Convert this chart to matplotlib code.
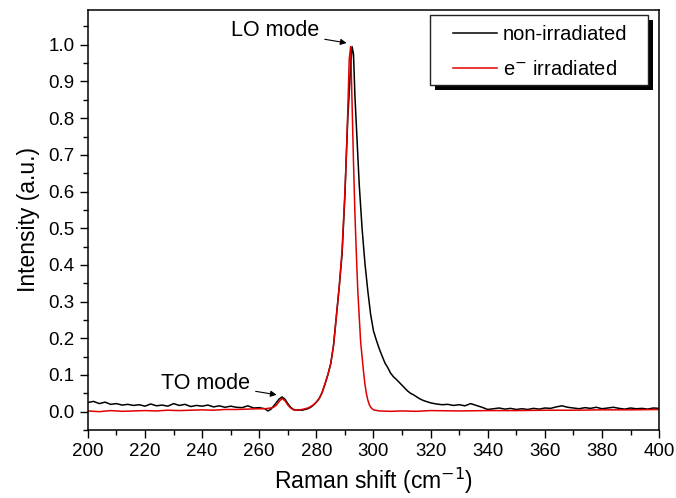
import matplotlib
matplotlib.use("Agg")
import matplotlib.pyplot as plt
from matplotlib.patches import Rectangle
from matplotlib.ticker import MultipleLocator
from matplotlib.legend_handler import HandlerLine2D

plt.rcParams['font.family'] = ['Liberation Sans', 'DejaVu Sans']

# non-irradiated spectrum (black)
shift_black = [200, 202, 204, 206, 208, 210, 212, 214, 216, 218, 220, 222, 224, 226, 228,
               230, 232, 234, 236, 238, 240, 242, 244, 246, 248, 250, 252, 254, 256, 258,
               260, 262, 263, 264, 265, 266, 267, 268, 269, 270, 271, 272, 273, 274, 275,
               276, 277, 278, 279, 280, 281, 282, 283, 284, 285, 286, 287, 288, 289, 290,
               290.5, 291, 291.5, 292, 292.5, 293, 293.5, 294, 295, 296, 297, 298, 299, 300,
               301, 302, 303, 304, 305, 306, 307, 308, 309, 310, 311, 312, 313, 314, 315,
               316, 317, 318, 320, 322, 324, 326, 328, 330, 332, 334, 336, 338, 340, 342,
               344, 346, 348, 350, 352, 354, 356, 358, 360, 362, 364, 366, 368, 370, 372,
               374, 376, 378, 380, 382, 384, 386, 388, 390, 392, 394, 396, 398, 400]
int_black = [0.025, 0.028, 0.022, 0.026, 0.020, 0.022, 0.018, 0.020, 0.017, 0.019, 0.015, 0.021, 0.016, 0.018, 0.015,
             0.022, 0.017, 0.020, 0.014, 0.017, 0.015, 0.018, 0.013, 0.016, 0.012, 0.015, 0.012, 0.011, 0.016, 0.010,
             0.011, 0.008, 0.002, 0.006, 0.015, 0.025, 0.035, 0.040, 0.034, 0.022, 0.012, 0.006, 0.004, 0.005, 0.004,
             0.006, 0.008, 0.012, 0.018, 0.026, 0.036, 0.052, 0.075, 0.100, 0.130, 0.180, 0.260, 0.340, 0.430, 0.590,
             0.70, 0.80, 0.87, 0.94, 0.995, 0.975, 0.86, 0.78, 0.62, 0.50, 0.405, 0.33, 0.265, 0.22,
             0.195, 0.172, 0.152, 0.133, 0.120, 0.105, 0.095, 0.088, 0.080, 0.072, 0.064, 0.056, 0.050, 0.046, 0.041,
             0.036, 0.032, 0.029, 0.024, 0.021, 0.019, 0.020, 0.017, 0.019, 0.016, 0.022, 0.017, 0.012, 0.006, 0.008,
             0.010, 0.007, 0.009, 0.006, 0.008, 0.006, 0.009, 0.007, 0.010, 0.009, 0.013, 0.016, 0.012, 0.010, 0.008,
             0.011, 0.009, 0.012, 0.008, 0.010, 0.012, 0.009, 0.007, 0.010, 0.008, 0.009, 0.007, 0.010, 0.009]

# e- irradiated spectrum (red)
shift_red = [200, 204, 208, 212, 216, 220, 224, 228, 232, 236, 240, 244, 248, 252, 256,
             260, 262, 264, 265, 266, 267, 268, 269, 270, 271, 272, 273, 274, 275, 276,
             277, 278, 279, 280, 281, 282, 283, 284, 285, 286, 287, 288, 289, 290, 290.5,
             291, 291.5, 292, 292.5, 293, 293.5, 294, 294.5, 295, 295.5, 296, 296.5, 297, 297.5,
             298, 298.5, 299, 300, 302, 306, 310, 315, 320, 330, 340, 350, 360, 370, 380,
             390, 400]
int_red = [0.002, 0.000, 0.003, 0.001, 0.002, 0.003, 0.002, 0.004, 0.003, 0.004, 0.005, 0.004, 0.006, 0.006, 0.007,
           0.008, 0.008, 0.010, 0.012, 0.018, 0.028, 0.036, 0.030, 0.018, 0.010, 0.005, 0.004, 0.005, 0.006, 0.008,
           0.010, 0.014, 0.019, 0.026, 0.036, 0.052, 0.075, 0.100, 0.130, 0.180, 0.260, 0.340, 0.440, 0.600, 0.70,
           0.82, 0.96, 0.995, 0.84, 0.68, 0.54, 0.43, 0.33, 0.26, 0.19, 0.15, 0.11, 0.075, 0.050,
           0.032, 0.020, 0.012, 0.005, 0.002, 0.001, 0.002, 0.001, 0.003, 0.002, 0.003, 0.003, 0.004, 0.004, 0.005,
           0.005, 0.006]

fig = plt.figure(figsize=(6.76, 4.98), dpi=100)
ax = fig.add_axes([0.130, 0.1365, 0.845, 0.8435])

ax.plot(shift_black, int_black, color='black', lw=1.1, label='non-irradiated')
ax.plot(shift_red, int_red, color='#e00000', lw=1.1, label='e$^{-}$ irradiated')

ax.set_xlim(200, 400)
ax.set_ylim(-0.05, 1.095)
ax.xaxis.set_major_locator(MultipleLocator(20))
ax.xaxis.set_minor_locator(MultipleLocator(10))
ax.yaxis.set_major_locator(MultipleLocator(0.1))
ax.yaxis.set_minor_locator(MultipleLocator(0.05))
ax.yaxis.set_major_formatter(plt.FormatStrFormatter('%.1f'))
ax.tick_params(which='both', direction='out', labelsize=13.5, top=False, right=False)
ax.tick_params(which='major', length=6, width=1)
ax.tick_params(which='minor', length=3.5, width=1)
for s in ax.spines.values():
    s.set_linewidth(1.1)

ax.set_xlabel('Raman shift (cm$^{-1}$)', fontsize=16.5, labelpad=4)
ax.set_ylabel('Intensity (a.u.)', fontsize=16.5, labelpad=6)

arrow = dict(arrowstyle='-|>', color='black', lw=0.8, mutation_scale=9, shrinkA=2, shrinkB=0)
ax.annotate('LO mode', xy=(290.6, 1.005), xytext=(281.0, 1.038), fontsize=15.5,
            ha='right', va='center', arrowprops=arrow)
ax.annotate('TO mode', xy=(266.1, 0.046), xytext=(256.8, 0.078), fontsize=15.5,
            ha='right', va='center', arrowprops=arrow)

# legend box with hard black shadow, drawn by hand
box_x0, box_y0, box_w, box_h = 0.599, 0.821, 0.382, 0.167
sx, sy = 5 / 571, 5 / 420
ax.add_patch(Rectangle((box_x0 + sx, box_y0 - sy), box_w, box_h, transform=ax.transAxes,
                       facecolor='black', edgecolor='none', zorder=4.8, clip_on=False))
ax.add_patch(Rectangle((box_x0, box_y0), box_w, box_h, transform=ax.transAxes,
                       facecolor='white', edgecolor='#222222', lw=1.0, zorder=4.9, clip_on=False))

leg = ax.legend(loc='upper left', bbox_to_anchor=(0.639, 0.965), fontsize=14.5,
                frameon=False, handlelength=2.19, handletextpad=0.3, borderpad=0,
                labelspacing=0.82, borderaxespad=0,
                handler_map={plt.Line2D: HandlerLine2D(xpad=0)})
leg.set_zorder(5)

fig.savefig('out.png', dpi=100)
